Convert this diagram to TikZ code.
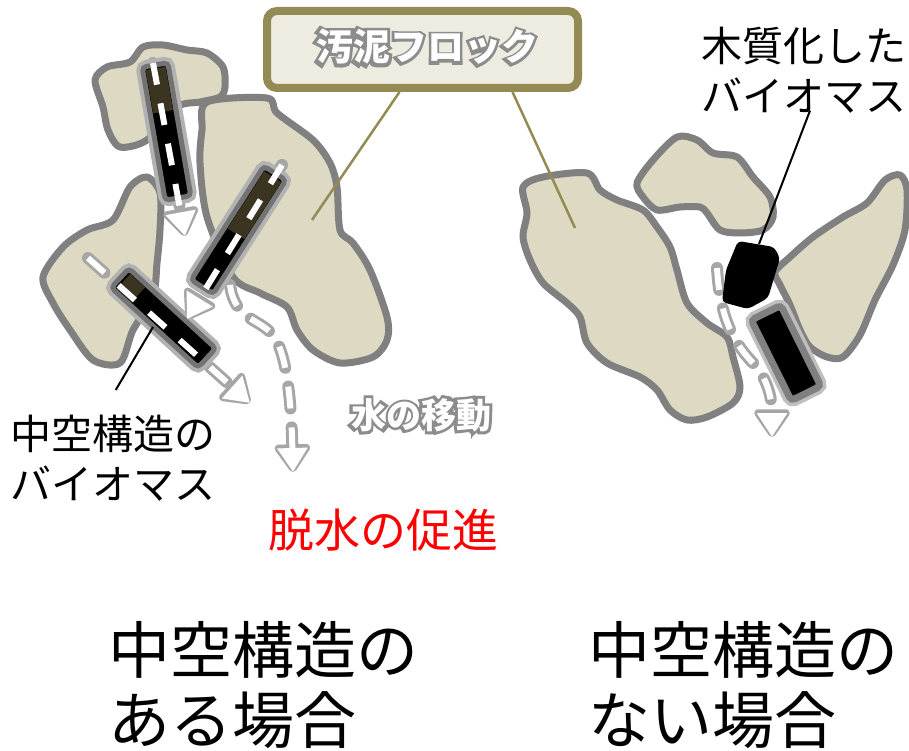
\documentclass[tikz,border=0pt]{standalone}
\usepackage{fontspec}
\setmainfont{Noto Sans CJK JP}
\newfontfamily\glowfont{Noto Sans CJK JP}[FakeBold=20]
\usetikzlibrary{arrows.meta, calc}
\definecolor{flocfill}{HTML}{DDD9C3}
\definecolor{flocedge}{HTML}{808080}
\definecolor{flocolive}{HTML}{948A54}
\definecolor{boxfill}{HTML}{EEECE1}
\definecolor{capbrown}{HTML}{3B3420}
\tikzset{
  floc/.style={draw=flocedge, line width=7pt, fill=flocfill, line join=round},
  capsule/.style={draw=black!55, line width=5pt, fill=black, rounded corners=4pt,
                  minimum height=26pt, inner sep=0pt,
                  preaction={draw=black!30, line width=13pt}},
  captop/.style={fill=capbrown, minimum height=20pt, inner sep=0pt},
  woody/.style={draw=black!50, line width=7pt, fill=black, rounded corners=4pt,
                inner sep=0pt, preaction={draw=black!25, line width=14pt}},
  wglow/.style={draw=black!35, line width=12pt, line cap=round,
                dash pattern=on 22pt off 19pt, -{Triangle[length=31pt,width=40pt,round]}},
  water/.style={draw=white, line width=6pt,
                dash pattern=on 22pt off 19pt, -{Triangle[length=24pt,width=29pt]}},
  lead/.style={draw=black, line width=2pt},
  flead/.style={draw=flocolive, line width=2.5pt},
  lbl/.style={inner sep=0pt, font=\fontsize{41}{50}\selectfont},
  bigl/.style={inner sep=0pt, align=left, anchor=north west, font=\fontsize{62}{70}\selectfont},
  glowt/.style={inner sep=0pt, text=black!45},
  whitet/.style={inner sep=0pt, text=white},
}

\begin{document}
\begin{tikzpicture}[x=1pt, y=-1pt]
  \useasboundingbox (0,0) rectangle (909,751);
  % flocs, left case
  \draw[floc] plot[smooth cycle, tension=.5] coordinates {(95,80) (107,67) (130,62) (143,47)
    (163,45) (187,50) (207,53) (223,67) (225,87) (220,97) (200,102) (177,107) (147,140)
    (120,147) (108,130) (103,107)};
  \draw[floc] plot[smooth cycle, tension=.5] coordinates {(43,277) (63,247) (87,230) (113,220)
    (130,187) (147,177) (160,193) (160,230) (157,263) (153,297) (133,330) (120,363) (93,360)
    (70,330) (53,303)};
  \draw[floc] plot[smooth cycle, tension=.5] coordinates {(207,102) (267,98) (277,113) (313,140)
    (330,163) (337,187) (340,230) (353,243) (370,270) (387,317) (387,340) (373,357) (340,363)
    (313,350) (297,330) (287,307) (260,293) (233,277) (207,217) (200,163) (202,130)};
  % flocs, right case
  \draw[floc] plot[smooth cycle, tension=.5] coordinates {(523,187) (543,177) (587,173) (600,190)
    (617,200) (643,210) (657,227) (670,247) (677,270) (687,303) (707,323) (727,337) (733,357)
    (740,387) (733,403) (707,417) (687,420) (670,410) (657,390) (640,377) (607,363) (587,343)
    (580,317) (567,303) (543,283) (530,260) (523,237) (527,213)};
  \draw[floc] plot[smooth cycle, tension=.5] coordinates {(637,183) (653,160) (677,137) (697,140)
    (713,153) (737,157) (753,177) (770,197) (773,217) (763,230) (740,233) (720,230) (707,213)
    (700,207) (680,207) (657,210) (643,197)};
  \draw[floc] plot[smooth cycle, tension=.5] coordinates {(775,272) (790,257) (813,237) (843,217)
    (867,203) (885,180) (900,175) (907,190) (905,230) (893,265) (875,300) (860,335) (843,357)
    (827,357) (810,347) (800,330) (790,305) (780,285)};

  % water paths
  \coordinate (w1a) at (153,63);  \coordinate (w1b) at (185,236);
  \coordinate (w2a) at (282,165); \coordinate (w2b) at (187,319);
  \coordinate (w3a) at (88,258);  \coordinate (w3b) at (250,403);
  \coordinate (w4a) at (230,285); \coordinate (w4m) at (275,338); \coordinate (w4b) at (293,472);
  \coordinate (w5a) at (717,268); \coordinate (w5m) at (755,365); \coordinate (w5b) at (772,437);
  \draw[wglow] (w1a) -- (w1b);
  \draw[wglow] (w2a) -- (w2b);
  \draw[wglow] (w3a) -- (w3b);
  \draw[wglow] (w4a) .. controls (235,322) and (262,318) .. (w4m) .. controls (286,356) and (291,395) .. (w4b);
  \draw[wglow] (w5a) .. controls (720,320) and (735,345) .. (w5m) .. controls (768,380) and (772,400) .. (w5b);

  % hollow biomass
  \node[capsule, minimum width=135, rotate=-80.2] (hb1) at (166.5,131.5) {};
  \node[captop, minimum width=44, rotate=-80.2] (hb1t) at ($(hb1.west)!.2!(hb1.east)$) {};
  \node[capsule, minimum width=135, rotate=57.4] (hb2) at (238.5,230) {};
  \node[captop, minimum width=68, rotate=57.4] (hb2t) at ($(hb2.east)!.29!(hb2.west)$) {};
  \node[capsule, minimum width=118, rotate=-42.6] (hb3) at (163.5,318) {};
  \node[captop, minimum width=20, rotate=-42.6] (hb3t) at ($(hb3.west)!.14!(hb3.east)$) {};

  \draw[water] (w1a) -- (w1b);
  \draw[water] (w2a) -- (w2b);
  \draw[water] (w3a) -- (w3b);
  \draw[water] (w4a) .. controls (235,322) and (262,318) .. (w4m) .. controls (286,356) and (291,395) .. (w4b);
  \draw[water] (w5a) .. controls (720,320) and (735,345) .. (w5m) .. controls (768,380) and (772,400) .. (w5b);

  % woody biomass
  \fill[black, rounded corners=4pt] (738,241) -- (774,247) -- (780,258) -- (768,298) -- (748,309)
    -- (722,302) -- (726,270) -- cycle;
  \coordinate (wood-tip) at (759,244);
  \node[woody, minimum width=90, minimum height=33, rotate=-63.6] (wb) at (786,353) {};

  % sludge floc label, grey emboldened copy under the white text
  \node[draw=flocolive, line width=8pt, fill=boxfill, rounded corners=10pt,
        minimum width=311, minimum height=77] (floc) at (422.5,49.5) {};
  \coordinate (fl-c) at (427,47);
  \node[glowt, font=\glowfont\fontsize{37}{40}\selectfont] (fl-g) at (fl-c) {汚泥フロック};
  \node[whitet, font=\bfseries\fontsize{37}{40}\selectfont] (fl-t) at (fl-c) {汚泥フロック};
  \coordinate (fl-a) at (312,220);
  \coordinate (fl-b) at (575,228);
  \draw[flead] ([xshift=-23pt]floc.south) -- (fl-a);
  \draw[flead] ([xshift=90pt]floc.south) -- (fl-b);

  % water movement
  \coordinate (mv-c) at (421,415);
  \node[glowt, font=\glowfont\fontsize{35}{40}\selectfont] (mv-g) at (mv-c) {水の移動};
  \node[whitet, font=\bfseries\fontsize{35}{40}\selectfont] (mv-t) at (mv-c) {水の移動};

  % labels
  \node[lbl, align=left, anchor=north west] (lbl-hollow) at (10,415) {中空構造の\\バイオマス};
  \coordinate (hb-tip) at (153,327);
  \draw[lead] ([xshift=3pt,yshift=25pt]lbl-hollow.north) -- (hb-tip);
  \node[lbl, align=center, anchor=north] (lbl-wood) at (804,27) {木質化した\\バイオマス};
  \draw[lead] ([xshift=6pt,yshift=3pt]lbl-wood.south) -- (wood-tip);
  \node[lbl, text=red, font=\fontsize{46}{50}\selectfont] (dewater) at (383,530) {脱水の促進};
  \node[bigl] (case-a) at (108,621) {中空構造の\\ある場合};
  \node[bigl] (case-b) at (588,621) {中空構造の\\ない場合};
\end{tikzpicture}
\end{document}
